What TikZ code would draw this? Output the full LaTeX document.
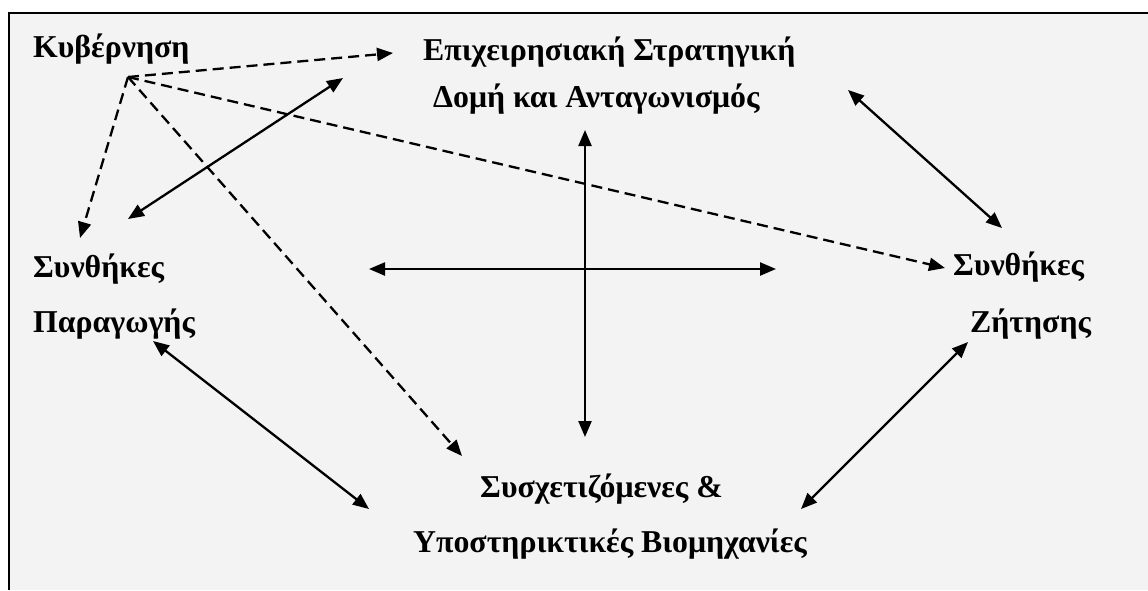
\documentclass[tikz,border=0pt]{standalone}
\usepackage{fontspec}
\setmainfont{Liberation Serif}
\usetikzlibrary{arrows.meta}
\definecolor{panel}{RGB}{243,243,243}
\tikzset{
  lbl/.style={anchor=base west, inner sep=0pt, font=\fontsize{31.8}{31.8}\selectfont\bfseries},
  tip/.style={-{Triangle[length=16pt,width=13pt]}},
  dtip/.style={{Triangle[length=16pt,width=13pt]}-{Triangle[length=16pt,width=13pt]}},
  link/.style={line width=2.3pt, black},
  dlink/.style={line width=2.3pt, black, dash pattern=on 11pt off 6pt},
}
\begin{document}
\begin{tikzpicture}[x=1pt,y=-1pt]
\useasboundingbox (0,0) rectangle (1148,590);
\fill[panel] (8,12) rectangle (1148,590);
\draw[line width=1.5pt] (8.75,590) -- (8.75,12.75) -- (1148,12.75);
% texts
\node[lbl] (gov) at (33,57) {Κυβέρνηση};
\node[lbl] (strat1) at (423,60) {Επιχειρησιακή Στρατηγική};
\node[lbl] (strat2) at (433,107) {Δομή και Ανταγωνισμός};
\node[lbl] (fac1) at (33,277) {Συνθήκες};
\node[lbl] (fac2) at (33,332) {Παραγωγής};
\node[lbl] (dem1) at (953,275) {Συνθήκες};
\node[lbl] (dem2) at (970,332) {Ζήτησης};
\node[lbl] (rel1) at (480,497) {Συσχετιζόμενες \&};
\node[lbl] (rel2) at (413,552) {Υποστηρικτικές Βιομηχανίες};
% connector ends
\coordinate (g0) at (128,77);
\coordinate (gS) at (393,53);
\coordinate (gF) at (80,238);
\coordinate (gR) at (462,456);
\coordinate (gD) at (945,268);
\coordinate (sF1) at (343,78);
\coordinate (sF2) at (128,219);
\coordinate (sD1) at (848,90);
\coordinate (sD2) at (1002,228);
\coordinate (vT) at (585,130);
\coordinate (vB) at (585,437);
\coordinate (hL) at (369,269);
\coordinate (hR) at (776,269);
\coordinate (fR1) at (153,341);
\coordinate (fR2) at (369,509);
\coordinate (dR1) at (968,342);
\coordinate (dR2) at (801,509);
% dashed government links
\draw[dlink,tip] (g0) -- (gS);
\draw[dlink,tip] (g0) -- (gF);
\draw[dlink,tip] (g0) -- (gR);
\draw[dlink,tip] (g0) -- (gD);
% solid links
\draw[link,dtip] (sF2) -- (sF1);
\draw[link,dtip] (sD1) -- (sD2);
\draw[link,dtip] (vT) -- (vB);
\draw[link,dtip] (hL) -- (hR);
\draw[link,dtip] (fR1) -- (fR2);
\draw[link,dtip] (dR1) -- (dR2);
\end{tikzpicture}
\end{document}
